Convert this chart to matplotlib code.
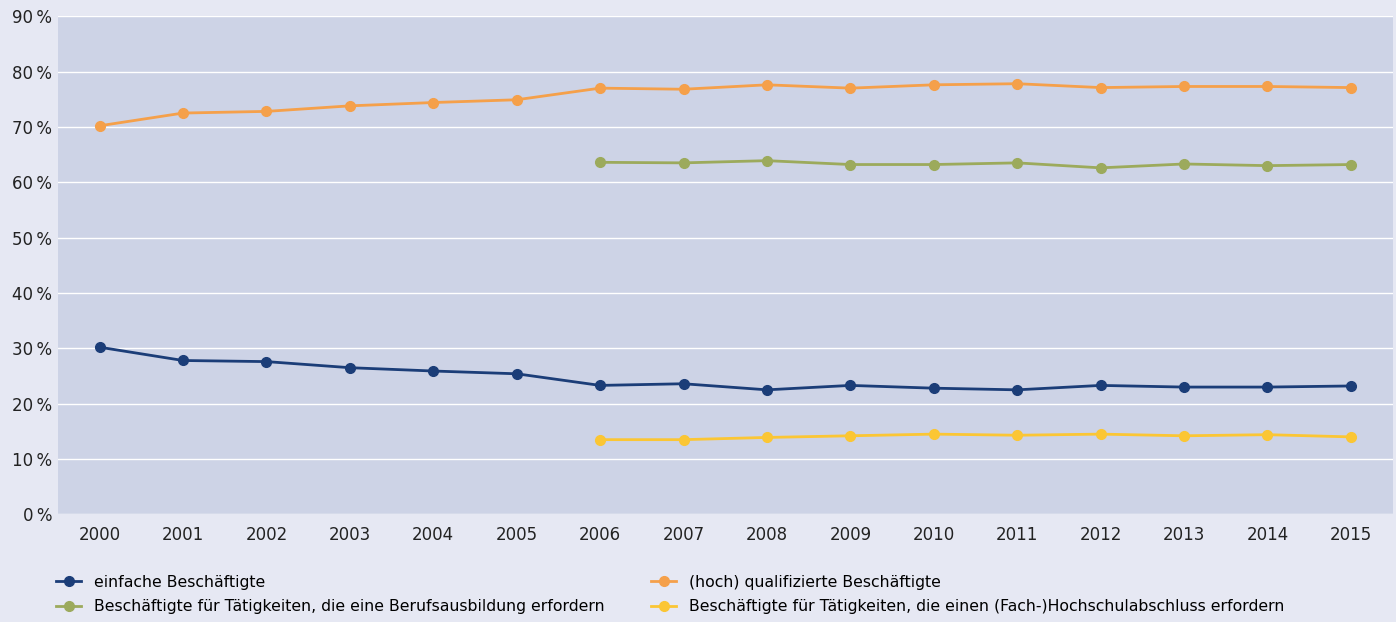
import matplotlib.pyplot as plt
from matplotlib.ticker import FuncFormatter

years = list(range(2000, 2016))
einfach = [30.2, 27.8, 27.6, 26.5, 25.9, 25.4, 23.3, 23.6, 22.5, 23.3, 22.8, 22.5, 23.3, 23.0, 23.0, 23.2]
qualifiziert = [70.2, 72.5, 72.8, 73.8, 74.4, 74.9, 77.0, 76.8, 77.6, 77.0, 77.6, 77.8, 77.1, 77.3, 77.3, 77.1]
years2 = list(range(2006, 2016))
beruf = [63.6, 63.5, 63.9, 63.2, 63.2, 63.5, 62.6, 63.3, 63.0, 63.2]
hochschule = [13.5, 13.5, 13.9, 14.2, 14.5, 14.3, 14.5, 14.2, 14.4, 14.0]

fig = plt.figure(figsize=(13.96, 6.22), dpi=100, facecolor='#e6e8f3')
ax = fig.add_axes([0.0415, 0.173, 0.956, 0.801], facecolor='#cdd3e6')

ax.plot(years, einfach, '-o', color='#1b3d78', lw=2, ms=7, label='einfache Beschäftigte')
ax.plot(years2, beruf, '-o', color='#9caa5c', lw=2, ms=7,
        label='Beschäftigte für Tätigkeiten, die eine Berufsausbildung erfordern')
ax.plot(years, qualifiziert, '-o', color='#f5a04a', lw=2, ms=7, label='(hoch) qualifizierte Beschäftigte')
ax.plot(years2, hochschule, '-o', color='#fbc634', lw=2, ms=7,
        label='Beschäftigte für Tätigkeiten, die einen (Fach-)Hochschulabschluss erfordern')

ax.set_ylim(0, 90)
ax.set_xlim(1999.5, 2015.5)
ax.set_yticks(range(0, 91, 10))
ax.set_xticks(years)
ax.yaxis.set_major_formatter(FuncFormatter(lambda v, p: f'{int(v)}\u2009%'))
ax.grid(axis='y', color='white', lw=1)
ax.set_axisbelow(True)
for s in ax.spines.values():
    s.set_visible(False)
ax.tick_params(length=0, labelsize=12, colors='#222222')
ax.tick_params(axis='y', pad=4)
ax.tick_params(axis='x', pad=8)

fig.legend(loc='lower left', bbox_to_anchor=(0.03, -0.01), ncol=2, frameon=False,
           fontsize=11.3, handlelength=1.6, columnspacing=3.0, labelspacing=0.6)
fig.savefig('out.png', dpi=100, facecolor=fig.get_facecolor())
